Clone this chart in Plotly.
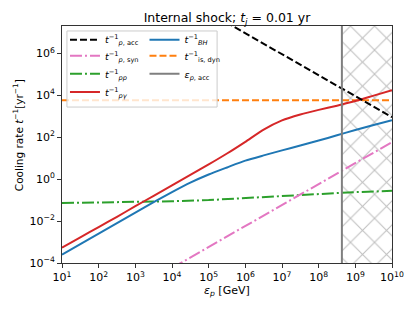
import plotly.graph_objects as go

# ---------------- data ----------------
E_grid = [1e1, 3.16e1, 1e2, 3.16e2, 1e3, 3.16e3, 1e4, 3.16e4, 1e5, 3.16e5,
          1e6, 3.16e6, 1e7, 3.16e7, 1e8, 3.16e8, 1e9, 3.16e9, 1e10]
t_pgamma = [5.4e-4, 1.66e-3, 5.2e-3, 1.6e-2, 5.1e-2, 0.16, 0.5, 1.58, 5.0, 16.6,
            60, 229, 630, 1200, 2000, 3160, 5250, 9550, 17400]
t_BH = [2.5e-4, 7.9e-4, 2.5e-3, 7.9e-3, 2.5e-2, 7.9e-2, 0.24, 0.68, 1.66, 3.6,
        7.6, 13.5, 23.4, 40, 69, 123, 219, 380, 646]

E_pp = [1e1, 1e2, 1e3, 1e4, 1e5, 1e6, 1e7, 1e8, 1e9, 1e10]
t_pp = [0.072, 0.076, 0.081, 0.088, 0.10, 0.125, 0.16, 0.20, 0.24, 0.275]

E_syn = [1e4, 1e10]
t_syn = [5.8e-5, 58]

E_acc = [1e5, 1e10]
t_acc = [9e7, 900]

E_dyn = [1e1, 1e10]
t_dyn = [5.75e3, 5.75e3]

eps_p_acc = 4.3e8
x_range = [1e1, 1e10]
y_range = [1e-4, 2e7]

x_tickvals = [10 ** k for k in range(1, 11)]
x_ticktext = ["10<sup>%d</sup>" % k for k in range(1, 11)]
y_tickvals = [10 ** k for k in range(-4, 7, 2)]
y_ticktext = ["10<sup>%s</sup>" % (str(k).replace("-", "\u2212")) for k in range(-4, 7, 2)]

# ---------------- figure ----------------
C_BLACK = "#000000"
C_PINK = "#e377c2"
C_GREEN = "#2ca02c"
C_RED = "#d62728"
C_BLUE = "#1f77b4"
C_ORANGE = "#ff7f0e"
C_GRAY = "#7f7f7f"

DASH = "7px,3px"
DASHDOT = "12px,3px,2px,3px"
LW = 2

fig = go.Figure()

# hatched region
fig.add_trace(go.Scatter(
    x=[eps_p_acc, x_range[1], x_range[1], eps_p_acc, eps_p_acc],
    y=[y_range[0], y_range[0], y_range[1], y_range[1], y_range[0]],
    mode="lines", fill="toself", line=dict(width=0, color="rgba(0,0,0,0)"),
    fillcolor="rgba(0,0,0,0)",
    fillpattern=dict(shape="x", fgcolor="#808080", bgcolor="rgba(0,0,0,0)", size=17, solidity=0.12),
    showlegend=False, hoverinfo="skip"))

def t_label(sub):
    return "<i>t</i><sup>\u22121</sup><sub>%s</sub>" % sub

fig.add_trace(go.Scatter(x=E_dyn, y=t_dyn, mode="lines", name=t_label("is, dyn"),
                         line=dict(color=C_ORANGE, width=LW, dash=DASH), legend="legend6"))
fig.add_trace(go.Scatter(x=E_pp, y=t_pp, mode="lines", name=t_label("<i>pp</i>"),
                         line=dict(color=C_GREEN, width=LW, dash=DASHDOT), legend="legend3"))
fig.add_trace(go.Scatter(x=E_syn, y=t_syn, mode="lines", name=t_label("<i>p</i>, syn"),
                         line=dict(color=C_PINK, width=LW, dash=DASHDOT), legend="legend2"))
fig.add_trace(go.Scatter(x=E_grid, y=t_BH, mode="lines", name=t_label("<i>BH</i>"),
                         line=dict(color=C_BLUE, width=LW, shape="spline", smoothing=0.6),
                         legend="legend5"))
fig.add_trace(go.Scatter(x=E_grid, y=t_pgamma, mode="lines", name=t_label("<i>p\u03b3</i>"),
                         line=dict(color=C_RED, width=LW, shape="spline", smoothing=0.6),
                         legend="legend4"))
fig.add_trace(go.Scatter(x=E_acc, y=t_acc, mode="lines", name=t_label("<i>p</i>, acc"),
                         line=dict(color=C_BLACK, width=LW, dash=DASH), legend="legend"))
fig.add_trace(go.Scatter(x=[eps_p_acc, eps_p_acc], y=y_range, mode="lines",
                         name="<i>\u03b5</i><sub><i>p</i>, acc</sub>",
                         line=dict(color=C_GRAY, width=2), legend="legend7"))

# legend background box
fig.add_shape(type="rect", xref="paper", yref="paper",
              x0=0.015, x1=0.47, y0=0.658, y1=0.979,
              fillcolor="rgba(255,255,255,0.8)", line=dict(color="#cccccc", width=1), layer="above")

FONT = "DejaVu Sans"

def leg(x, y):
    return dict(x=x, y=y, bgcolor="rgba(0,0,0,0)", borderwidth=0,
                font=dict(family=FONT, size=9.5, color="black"),
                xanchor="left", yanchor="middle", itemwidth=30)

col1, col2 = 0.009, 0.25
rows = [0.942, 0.874, 0.798, 0.722]

# axis titles as annotations so they sit where the reference has them
fig.add_annotation(text="<i>\u03b5<sub>p</sub></i> [GeV]", xref="paper", yref="paper",
                   x=0.5, y=-0.118, xanchor="center", yanchor="middle", showarrow=False,
                   font=dict(family=FONT, size=11, color="black"))
fig.add_annotation(text="Cooling rate <i>t</i><sup>\u22121</sup>[yr<sup>\u22121</sup>]",
                   xref="paper", yref="paper", x=-0.136, y=0.54, xanchor="center",
                   yanchor="middle", textangle=-90, showarrow=False,
                   font=dict(family=FONT, size=10.5, color="black"))

# the page body has an 8px margin; the figure is sized so the plot area lands
# on the same window pixels as in the reference
fig.update_layout(
    width=407, height=304,
    margin=dict(l=54, r=23, t=18, b=49, autoexpand=False),
    paper_bgcolor="white", plot_bgcolor="white",
    font=dict(family=FONT, size=11, color="black"),
    title=dict(text="Internal shock; <i>t<sub>j</sub></i> = 0.01 yr", xref="paper", x=0.5,
               xanchor="center", y=0.968, yanchor="middle", pad=dict(t=0), font=dict(size=12.5)),
    legend=leg(col1, rows[0]),
    legend2=leg(col1, rows[1]),
    legend3=leg(col1, rows[2]),
    legend4=leg(col1, rows[3]),
    legend5=leg(col2, rows[0]),
    legend6=leg(col2, rows[1]),
    legend7=leg(col2, rows[2]),
    xaxis=dict(type="log", range=[1, 10], tickvals=x_tickvals, ticktext=x_ticktext,
               ticks="outside", ticklen=4, tickcolor="#333", showgrid=False, zeroline=False,
               showline=True, linecolor="#333", linewidth=1, mirror=True, automargin=False,
               tickfont=dict(size=11)),
    yaxis=dict(type="log", range=[-4, 7.3], tickvals=y_tickvals, ticktext=y_ticktext,
               ticks="outside", ticklen=4, tickcolor="#333", showgrid=False, zeroline=False,
               showline=True, linecolor="#333", linewidth=1, mirror=True, automargin=False,
               tickfont=dict(size=11)),
)

fig.write_html("out.html")
